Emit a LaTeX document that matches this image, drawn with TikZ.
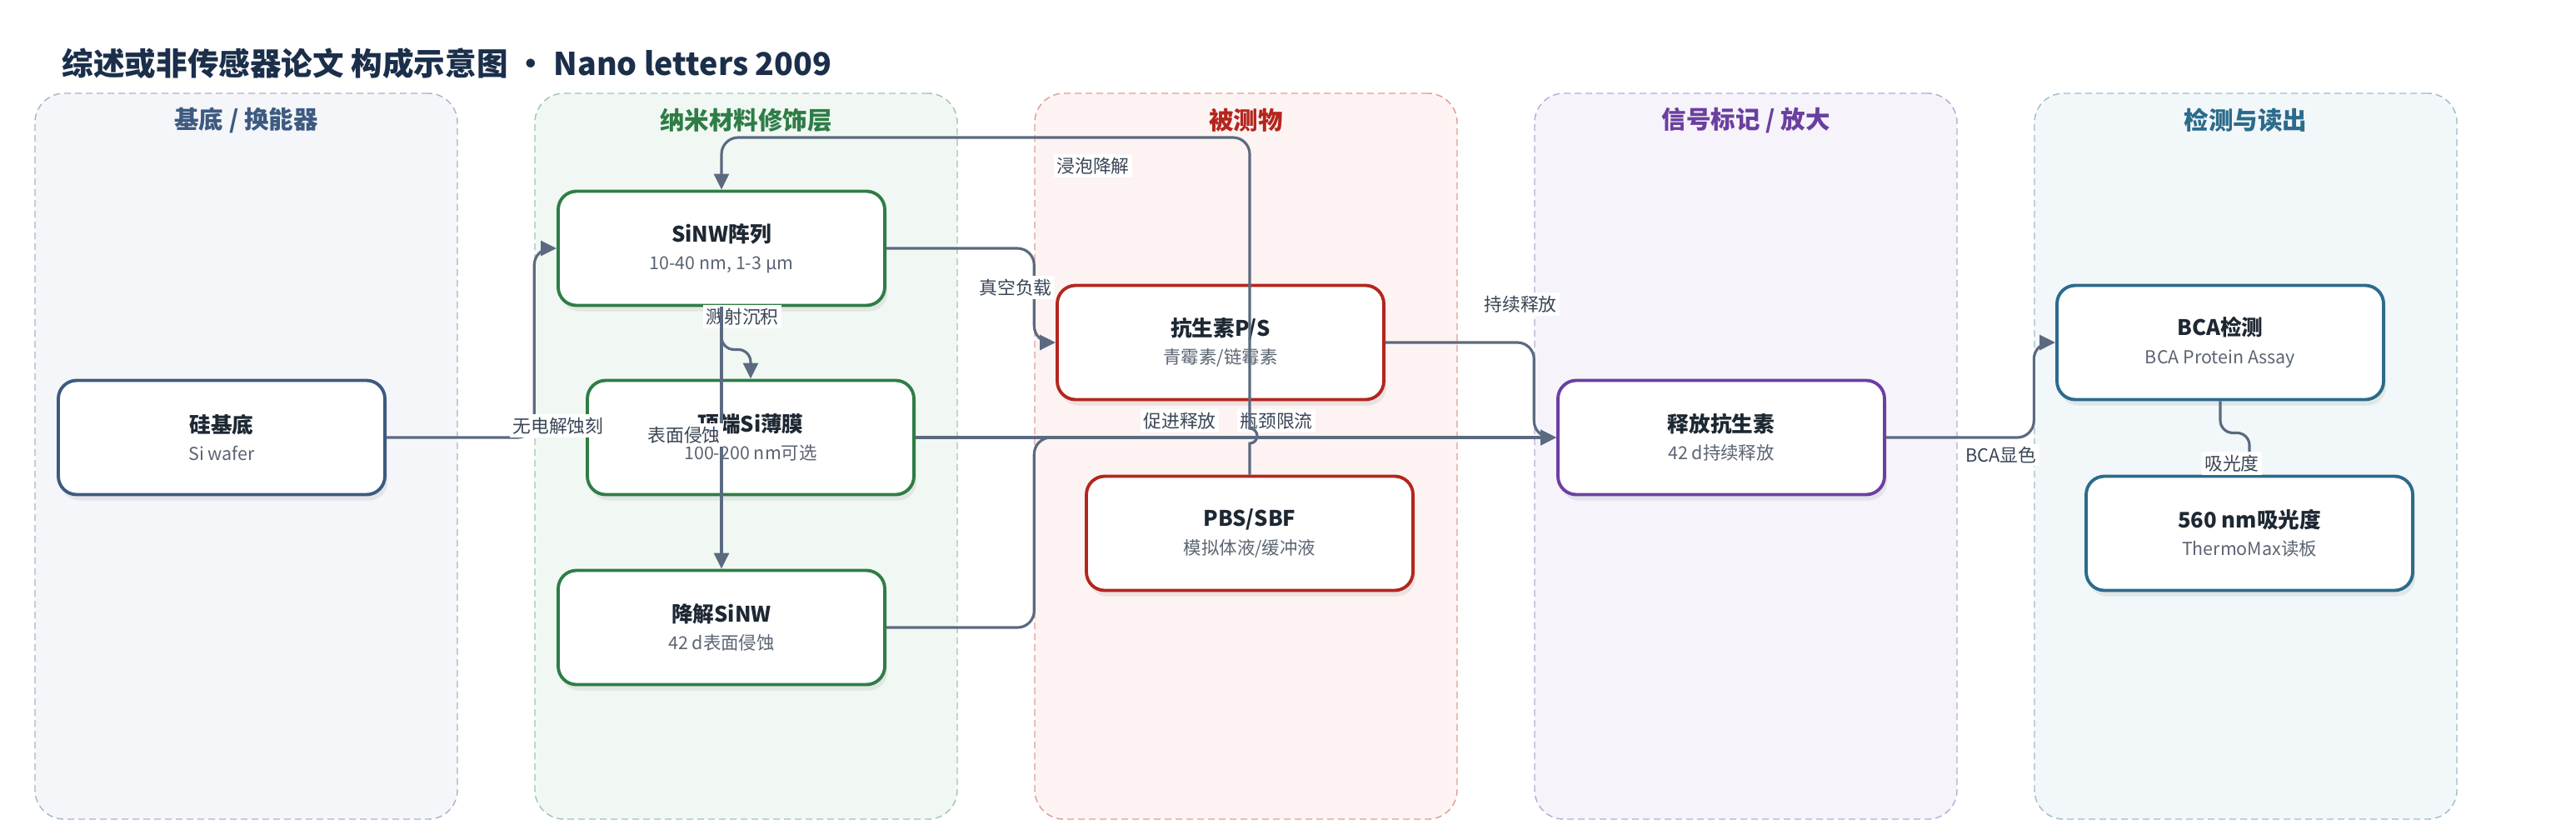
\documentclass[tikz,border=0pt]{standalone}
\usepackage{fontspec}
\setmainfont{Noto Sans CJK SC}
\usepackage{xcolor}
\usetikzlibrary{positioning,arrows.meta,shadows}

\definecolor{titleink}{HTML}{1B2F4A}
\definecolor{boxink}{HTML}{1E2833}
\definecolor{subink}{HTML}{5B6573}
\definecolor{labelink}{HTML}{3A4555}
\definecolor{edgeink}{HTML}{5B6A80}
\definecolor{bluecol}{HTML}{3D5A80}
\definecolor{greencol}{HTML}{2E7D46}
\definecolor{redcol}{HTML}{B3261E}
\definecolor{purplecol}{HTML}{6B3FA0}
\definecolor{tealcol}{HTML}{2B6B8C}
\definecolor{bluefill}{HTML}{F4F6FA}
\definecolor{greenfill}{HTML}{F1F8F3}
\definecolor{redfill}{HTML}{FDF3F2}
\definecolor{purplefill}{HTML}{F6F3FB}
\definecolor{tealfill}{HTML}{F2F7F9}

\newcommand{\subline}[1]{{\fontsize{6.1}{7.5}\selectfont\color{subink}#1}}

\begin{document}
\begin{tikzpicture}[
    >={Triangle[length=1.9mm,width=1.8mm]},
    lane/.style={
        draw,
        dash pattern=on 0.8mm off 0.5mm,
        line width=0.4pt,
        rounded corners=3.5mm,
        minimum width=5.07cm,
        minimum height=8.71cm
    },
    lanetitle/.style={
        font=\fontsize{8.4}{10}\selectfont\bfseries,
        inner sep=0pt
    },
    box/.style={
        rounded corners=2.2mm,
        line width=1.1pt,
        fill=white,
        minimum width=3.92cm,
        minimum height=1.37cm,
        align=center,
        text=boxink,
        font=\fontsize{7.3}{9.5}\selectfont,
        drop shadow={shadow xshift=0.3mm, shadow yshift=-0.7mm, opacity=0.14}
    },
    elabel/.style={
        fill=white,
        inner sep=1pt,
        text=labelink,
        font=\fontsize{6.2}{7}\selectfont
    },
    arr/.style={->, line width=0.9pt, draw=edgeink, rounded corners=2mm}
]

\fill[white] (0,0) rectangle (30.92,-10.07);

\node[anchor=west, inner sep=0pt, text=titleink, font=\fontsize{10.7}{13}\selectfont\bfseries] (title) at (0.74,-0.76)
{综述或非传感器论文 构成示意图 • Nano letters 2009};

% lanes
\node[lane, draw=bluecol!45, fill=bluefill] (lane1) at (2.955,-5.475) {};
\node[lane, draw=greencol!45, fill=greenfill] (lane2) at (8.955,-5.475) {};
\node[lane, draw=redcol!45, fill=redfill] (lane3) at (14.955,-5.475) {};
\node[lane, draw=purplecol!45, fill=purplefill] (lane4) at (20.955,-5.475) {};
\node[lane, draw=tealcol!45, fill=tealfill] (lane5) at (26.955,-5.475) {};

\node[lanetitle, text=bluecol] (t1) at ([yshift=-0.33cm]lane1.north) {基底 / 换能器};
\node[lanetitle, text=greencol] (t2) at ([yshift=-0.33cm]lane2.north) {纳米材料修饰层};
\node[lanetitle, text=redcol] (t3) at ([yshift=-0.33cm]lane3.north) {被测物};
\node[lanetitle, text=purplecol] (t4) at ([yshift=-0.33cm]lane4.north) {信号标记 / 放大};
\node[lanetitle, text=tealcol] (t5) at ([yshift=-0.33cm]lane5.north) {检测与读出};

\coordinate (toprail) at (0,-1.65);

% boxes
\node[box, draw=bluecol] (wafer) at (2.66,-5.25)
{{\bfseries 硅基底}\\\subline{Si wafer}};

\node[box, draw=greencol] (sinw) at (8.66,-2.98)
{{\bfseries SiNW阵列}\\\subline{10-40 nm, 1-3 µm}};

\node[box, draw=greencol] (film) at (9.01,-5.25)
{{\bfseries 顶端Si薄膜}\\\subline{100-200 nm可选}};

\node[box, draw=greencol] (degr) at (8.66,-7.53)
{{\bfseries 降解SiNW}\\\subline{42 d表面侵蚀}};

\node[box, draw=redcol] (anti) at (14.65,-4.11)
{{\bfseries 抗生素P/S}\\\subline{青霉素/链霉素}};

\node[box, draw=redcol] (pbs) at (15.00,-6.40)
{{\bfseries PBS/SBF}\\\subline{模拟体液/缓冲液}};

\node[box, draw=purplecol] (release) at (20.66,-5.25)
{{\bfseries 释放抗生素}\\\subline{42 d持续释放}};

\node[box, draw=tealcol] (bca) at (26.65,-4.11)
{{\bfseries BCA检测}\\\subline{BCA Protein Assay}};

\node[box, draw=tealcol] (absorb) at (27.00,-6.40)
{{\bfseries 560 nm吸光度}\\\subline{ThermoMax读板}};

% connectors
\draw[arr] (wafer.east) -| (lane2.west |- sinw.west) -- (sinw.west);
\node[elabel] (l1) at (6.70,-5.11) {无电解蚀刻};

\draw[arr, rounded corners=1.5mm] (sinw.south) -- ++(0,-0.51) -| (film.north);
\node[elabel] (l2) at (8.91,-3.80) {溅射沉积};

\draw[arr] (sinw.south) -- (degr.north);
\node[elabel] (l3) at (8.21,-5.22) {表面侵蚀};

\draw[arr] (sinw.east) -| (lane3.west |- anti.west) -- (anti.west);
\node[elabel] (l4) at (12.19,-3.45) {真空负载};

\draw[arr] (degr.east) -| (lane3.west |- release.west) -- (release.west);
\node[elabel] (l5) at (14.16,-5.05) {促进释放};

\draw[arr] (film.east) -- (release.west);
\node[elabel] (l6) at (15.32,-5.05) {瓶颈限流};

\draw[arr, sharp corners] (pbs.north) -- ++(0,0.375)
    arc[start angle=-90, end angle=90, radius=0.09]
    -- ++(0,0.05) [rounded corners=2mm] |- (sinw.north |- toprail) -- (sinw.north);
\node[elabel] (l7) at (13.12,-1.99) {浸泡降解};

\draw[arr] (anti.east) -| (lane4.west |- release.west) -- (release.west);
\node[elabel] (l8) at (18.25,-3.65) {持续释放};

\draw[arr] (release.east) -| (lane5.west |- bca.west) -- (bca.west);
\node[elabel] (l9) at (24.02,-5.46) {BCA显色};

\draw[arr, rounded corners=1.5mm] (bca.south) -- ++(0,-0.38) -| (absorb.north);
\node[elabel] (l10) at (26.79,-5.56) {吸光度};

\end{tikzpicture}
\end{document}
